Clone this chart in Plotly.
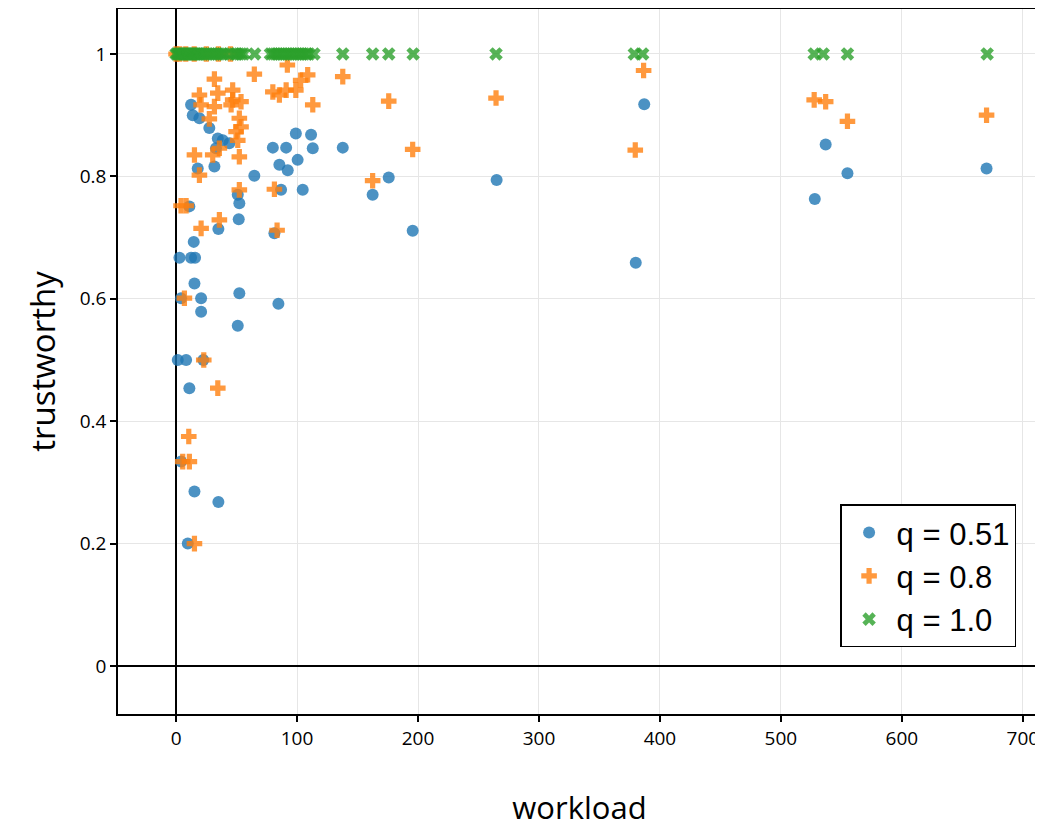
import plotly.graph_objects as go

# q = 0.51
blue_x = [12.4, 13.8, 19.3, 27.5, 34.5, 38.6, 44, 33, 17.9, 31.7, 64.7, 80, 91, 99, 111.6, 113,
          100.5, 85.4, 92.3, 104.7, 86.8, 51, 52.3, 51.8, 35, 81.3, 11, 14.6, 2.8, 12.4, 15.7,
          15.2, 4.1, 20.7, 20.7, 52.3, 84.6, 51, 1.4, 8.3, 22.5, 11, 15.2, 35, 9.7, 4.1,
          137.8, 162.5, 175.8, 195.6, 265, 387, 380, 537, 555, 528, 670]
blue_y = [0.917, 0.900, 0.895, 0.879, 0.862, 0.859, 0.854, 0.846, 0.813, 0.816, 0.801, 0.847, 0.847, 0.870, 0.868, 0.846,
          0.827, 0.819, 0.810, 0.778, 0.778, 0.770, 0.756, 0.730, 0.714, 0.707, 0.751, 0.693, 0.667, 0.667, 0.667,
          0.625, 0.601, 0.601, 0.579, 0.609, 0.592, 0.556, 0.5, 0.5, 0.5, 0.454, 0.285, 0.268, 0.2, 0.334,
          0.847, 0.770, 0.798, 0.711, 0.794, 0.918, 0.659, 0.852, 0.805, 0.763, 0.813]

# q = 0.8
orange_x = [0, 3, 8, 15, 25, 35, 45,
            31.7, 64.7, 92, 108.8, 103, 80, 85.4, 91, 99, 113, 19.3, 34.5, 46.8, 46.8, 20.7, 31.7,
            45.5, 53.7, 27.5, 52.3, 53.7, 49.6, 51, 15.2, 30.3, 35.8, 52.3, 19.3, 52.3, 81.3, 4.1,
            8.3, 35.8, 20.7, 83.5, 6.9, 22.9, 34.5, 10.5, 5.5, 11, 15.2,
            137.8, 175.8, 195.6, 162.5, 264.5, 386.5, 379.6, 527.5, 537, 555, 670]
orange_y = [1, 1, 1, 1, 1, 1, 1,
            0.959, 0.967, 0.982, 0.966, 0.957, 0.938, 0.933, 0.941, 0.941, 0.917, 0.933, 0.936, 0.941, 0.925, 0.917, 0.914,
            0.917, 0.922, 0.894, 0.895, 0.881, 0.873, 0.859, 0.835, 0.835, 0.846, 0.832, 0.802, 0.778, 0.779, 0.752,
            0.752, 0.729, 0.715, 0.712, 0.601, 0.5, 0.454, 0.375, 0.334, 0.334, 0.2,
            0.963, 0.923, 0.844, 0.793, 0.928, 0.973, 0.843, 0.925, 0.922, 0.890, 0.900]

# q = 1.0
green_x = [0, 1, 2, 3, 4, 5, 6, 7, 8, 9, 10, 11, 12, 13, 14, 15, 16, 17, 18, 19, 20, 22, 24, 26,
           28, 30, 32, 34, 36, 38, 40, 44, 48, 50, 52, 54, 56, 65, 78, 80, 82, 84, 86, 88, 90,
           92, 94, 96, 98, 100, 102, 104, 106, 108, 110, 114,
           137.8, 162.5, 175.8, 196, 264.5, 378.8, 385.7, 527.5, 535, 555, 670.5]
green_y = [1.0] * len(green_x)

names = ["q = 0.51", "q = 0.8", "q = 1.0"]
colors = ["#1f77b4", "#ff7f0e", "#2ca02c"]

fig = go.Figure()
fig.add_trace(go.Scatter(x=blue_x, y=blue_y, mode="markers", name=names[0], legendgroup="a",
                         marker=dict(symbol="circle", size=12, color=colors[0], opacity=0.8)))
fig.add_trace(go.Scatter(x=orange_x, y=orange_y, mode="markers", name=names[1], legendgroup="b",
                         marker=dict(symbol="cross", size=13, color=colors[1], opacity=0.8)))
fig.add_trace(go.Scatter(x=green_x, y=green_y, mode="markers", name=names[2], legendgroup="c",
                         marker=dict(symbol="x", size=12, color=colors[2], opacity=0.8)))

axis_common = dict(showline=True, linecolor="black", linewidth=1.5, mirror=True,
                   ticks="outside", ticklen=6, tickcolor="black", tickwidth=1.5,
                   showgrid=True, gridcolor="#e6e6e6", gridwidth=1,
                   zeroline=True, zerolinecolor="black", zerolinewidth=1.5,
                   tickfont=dict(family="Open Sans", size=19, color="black"))

fig.update_xaxes(range=[-48, 715], dtick=100,
                 title=dict(text="workload", font=dict(family="Open Sans", size=31, color="black"), standoff=48),
                 **axis_common)
fig.update_yaxes(range=[-0.0784, 1.0735], dtick=0.2,
                 title=dict(text="trustworthy", font=dict(family="Open Sans", size=33, color="black"), standoff=14),
                 **axis_common)

fig.update_layout(
    width=1043, height=835,
    margin=dict(l=110, r=10, t=1, b=129, autoexpand=False),
    plot_bgcolor="white", paper_bgcolor="white",
    legend=dict(x=0.973, y=0.0945, xanchor="right", yanchor="bottom",
                bgcolor="white", bordercolor="black", borderwidth=1.5,
                font=dict(family="Liberation Sans", size=31, color="black"),
                tracegroupgap=0, traceorder="grouped", itemwidth=45),
    showlegend=True,
)

fig.write_html("out.html")
